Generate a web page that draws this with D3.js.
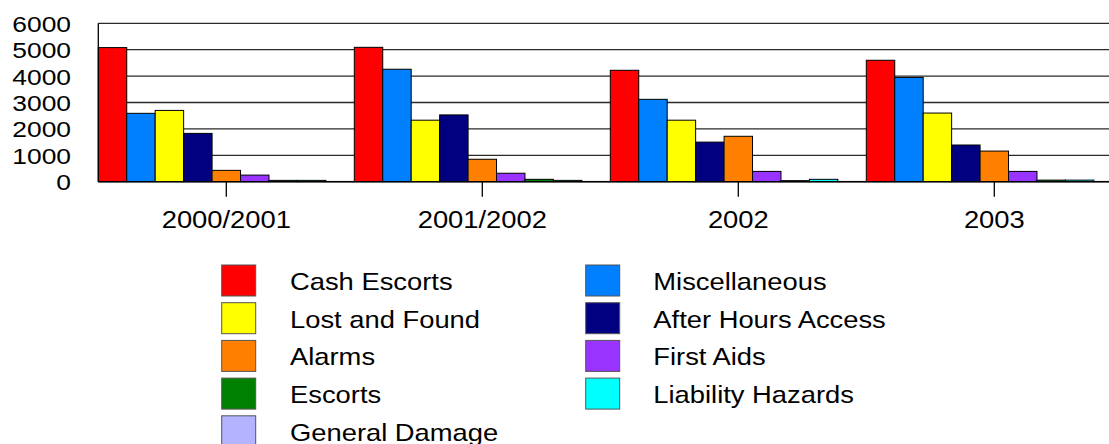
<!DOCTYPE html>
<html>
<head>
<meta charset="utf-8">
<script src="https://cdn.jsdelivr.net/npm/d3@7"></script>
<style>
  body { margin: 0; background: #fff; }
  svg { display: block; font-family: "Liberation Sans", Arial, sans-serif; }
</style>
</head>
<body>
<svg id="chart" width="1109" height="444"></svg>
<script>
// chart data
let years = ['2000/2001', '2001/2002', '2002', '2003']
let seriesNames = ['Cash Escorts', 'Miscellaneous', 'Lost and Found', 'After Hours Access',
  'Alarms', 'First Aids', 'Escorts', 'Liability Hazards', 'General Damage']
let seriesColors = ['#ff0000', '#0080ff', '#ffff00', '#000080', '#ff8000', '#9933ff', '#008000', '#00ffff', '#b3b3ff']
let cashEscorts = [5080, 5090, 4220, 4600]
let miscellaneous = [2590, 4260, 3120, 3950]
let lostAndFound = [2700, 2330, 2330, 2600]
let afterHoursAccess = [1830, 2530, 1500, 1390]
let alarms = [430, 850, 1720, 1160]
let firstAids = [250, 320, 390, 390]
let escorts = [50, 90, 40, 60]
let liabilityHazards = [50, 50, 90, 60]
let generalDamage = [10, 10, 10, 10]
let yTicks = [0, 1000, 2000, 3000, 4000, 5000, 6000]

let seriesValues = [cashEscorts, miscellaneous, lostAndFound, afterHoursAccess,
  alarms, firstAids, escorts, liabilityHazards, generalDamage]

let svg = d3.select('#chart')
let chartWidth = 1109
let plotLeft = 98.3
let plotTop = 23.3
let plotBottom = 181.7

let y = d3.scaleLinear().domain([0, 6000]).range([plotBottom, plotTop])
let x0 = d3.scaleBand().domain(years).range([plotLeft, plotLeft + 1024]).padding(0)
let x1 = d3.scaleBand().domain(d3.range(seriesNames.length)).range([0, x0.bandwidth()]).padding(0)

// grid lines
svg.append('g').selectAll('line')
  .data(yTicks.filter(d => d > 0))
  .enter().append('line')
  .attr('x1', plotLeft).attr('x2', chartWidth)
  .attr('y1', d => y(d)).attr('y2', d => y(d))
  .attr('stroke', '#2a2a2a')
  .attr('stroke-width', 1.3)

// y labels
svg.append('g').selectAll('text')
  .data(yTicks)
  .enter().append('text')
  .attr('transform', d => 'translate(71,' + (y(d) + 8.4) + ') scale(1.2,1)')
  .attr('text-anchor', 'end')
  .attr('font-size', 22)
  .attr('fill', '#000')
  .text(d => d)

// bars
let groups = svg.append('g').selectAll('g')
  .data(years)
  .enter().append('g')
  .attr('transform', d => 'translate(' + x0(d) + ',0)')

groups.selectAll('rect')
  .data((d, gi) => seriesValues.map((vals, si) => ({ si: si, value: vals[gi] })))
  .enter().append('rect')
  .attr('x', d => x1(d.si))
  .attr('y', d => y(d.value))
  .attr('width', x1.bandwidth())
  .attr('height', d => plotBottom - y(d.value))
  .attr('fill', d => seriesColors[d.si])
  .attr('stroke', '#000')
  .attr('stroke-width', 1)

// axes lines
svg.append('line')
  .attr('x1', plotLeft).attr('x2', plotLeft)
  .attr('y1', plotTop).attr('y2', plotBottom)
  .attr('stroke', '#000').attr('stroke-width', 1.3)
svg.append('line')
  .attr('x1', plotLeft).attr('x2', chartWidth)
  .attr('y1', plotBottom).attr('y2', plotBottom)
  .attr('stroke', '#000').attr('stroke-width', 1.5)

// x ticks and labels
svg.append('g').selectAll('line')
  .data(years)
  .enter().append('line')
  .attr('x1', d => x0(d) + x0.bandwidth() / 2)
  .attr('x2', d => x0(d) + x0.bandwidth() / 2)
  .attr('y1', plotBottom).attr('y2', plotBottom + 15)
  .attr('stroke', '#000').attr('stroke-width', 1.3)

svg.append('g').selectAll('text')
  .data(years)
  .enter().append('text')
  .attr('transform', d => 'translate(' + (x0(d) + x0.bandwidth() / 2) + ',228.3) scale(1.14,1)')
  .attr('text-anchor', 'middle')
  .attr('font-size', 24)
  .attr('fill', '#000')
  .text(d => d)

// legend, filled row by row in two columns
let legend = svg.append('g').selectAll('g')
  .data(seriesNames)
  .enter().append('g')
  .attr('transform', (d, i) => 'translate(' + (i % 2 == 0 ? 221.7 : 585.7) + ',' + (265 + Math.floor(i / 2) * 37.7) + ')')

legend.append('rect')
  .attr('width', 34).attr('height', 31)
  .attr('fill', (d, i) => seriesColors[i])
  .attr('stroke', '#555').attr('stroke-width', 1)

legend.append('text')
  .attr('transform', (d, i) => 'translate(' + (i % 2 == 0 ? 68.3 : 67.6) + ',25) scale(1.14,1)')
  .attr('font-size', 24)
  .attr('fill', '#000')
  .text(d => d)
</script>
</body>
</html>
